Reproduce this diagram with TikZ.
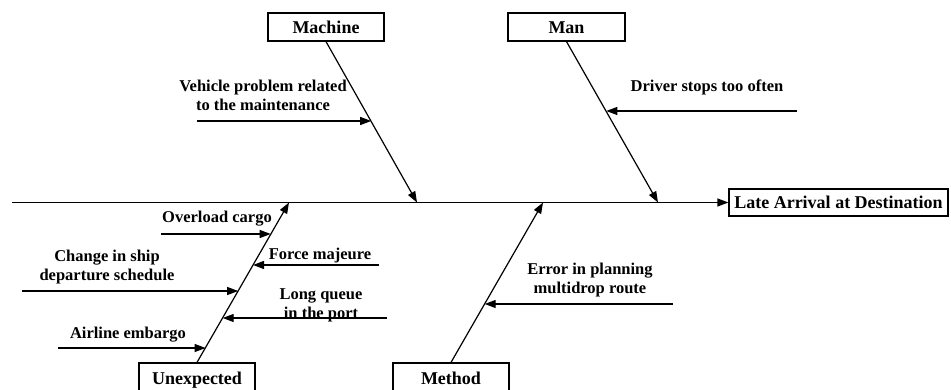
\documentclass[tikz,border=0pt]{standalone}
\usepackage{fontspec}
\setmainfont{Liberation Serif}
\usetikzlibrary{arrows.meta,calc}
\begin{document}
\begin{tikzpicture}[x=1pt,y=-1pt,
  every node/.style={font=\fontsize{16.5}{19}\selectfont\bfseries, inner sep=0pt},
  catbox/.style={draw, line width=1.2pt, minimum height=28pt, minimum width=116pt,
    font=\fontsize{18}{20}\selectfont\bfseries, text height=13pt, text depth=0pt},
  effbox/.style={draw, line width=1.2pt, minimum height=27pt, minimum width=219pt,
    font=\fontsize{18}{20}\selectfont\bfseries},
  lbl/.style={align=center},
  arr/.style={line width=1.2pt, -{Triangle[length=11pt,width=8pt]}}
]
\useasboundingbox (0,0) rectangle (951,390);
% category boxes
\node[catbox] (machine) at (326,27) {Machine};
\node[catbox, minimum width=117pt] (man) at (566.5,27) {Man};
\node[catbox, minimum height=29pt] (unexp) at (197,377.5) {Unexpected};
\node[catbox, minimum height=29pt] (method) at (451,377.5) {Method};
\node[effbox] (effect) at (838.5,202.5) {Late Arrival at Destination};
% spine
\coordinate (tail) at (12,202.5);
\draw[arr] (tail) -- (effect.west);
% bone tips on spine
\coordinate (mtip) at (417,202.5);
\coordinate (ntip) at (658,202.5);
\coordinate (utip) at (289,202.5);
\coordinate (dtip) at (543,202.5);
\draw[arr] (machine.south) -- (mtip);
\draw[arr] (man.south) -- (ntip);
\draw[arr] (unexp.north) -- (utip);
\draw[arr] (method.north) -- (dtip);
% points on bones
\coordinate (m1) at ($(machine.south)!0.4969!(mtip)$);
\coordinate (n1) at ($(man.south)!0.4348!(ntip)$);
\coordinate (u1) at ($(unexp.north)!0.8012!(utip)$);
\coordinate (u2) at ($(unexp.north)!0.6087!(utip)$);
\coordinate (u3) at ($(unexp.north)!0.4472!(utip)$);
\coordinate (u4) at ($(unexp.north)!0.2795!(utip)$);
\coordinate (u5) at ($(unexp.north)!0.0932!(utip)$);
\coordinate (d1) at ($(method.north)!0.3665!(dtip)$);
% cause arrow starts
\coordinate (sm1) at (197,121);
\coordinate (sn1) at (797,111);
\coordinate (su1) at (161,234);
\coordinate (su2) at (379,265);
\coordinate (su3) at (22,291);
\coordinate (su4) at (387,318);
\coordinate (su5) at (58,348);
\coordinate (sd1) at (673,304);
\draw[arr] (sm1) -- (sm1 -| m1);
\draw[arr] (sn1) -- (sn1 -| n1);
\draw[arr] (su1) -- (su1 -| u1);
\draw[arr] (su2) -- (su2 -| u2);
\draw[arr] (su3) -- (su3 -| u3);
\draw[arr] (su4) -- (su4 -| u4);
\draw[arr] (su5) -- (su5 -| u5);
\draw[arr] (sd1) -- (sd1 -| d1);
% labels
\node[lbl] (t1) at (263,95) {Vehicle problem related\\to the maintenance};
\node[lbl] (t2) at (707,87) {Driver stops too often};
\node[lbl] (t3) at (217,219) {Overload cargo};
\node[lbl] (t4) at (107,267) {Change in ship\\departure schedule};
\node[lbl] (t5) at (320,256) {Force majeure};
\node[lbl] (t6) at (321,305) {Long queue\\in the port};
\node[lbl] (t7) at (128,335) {Airline embargo};
\node[lbl] (t8) at (590,280) {Error in planning\\multidrop route};
\end{tikzpicture}
\end{document}
